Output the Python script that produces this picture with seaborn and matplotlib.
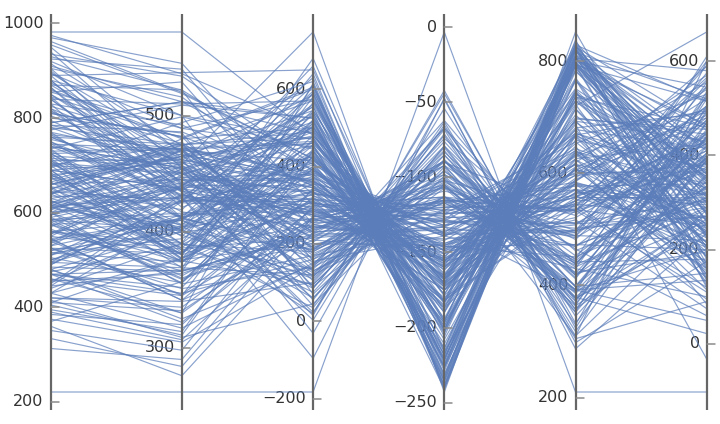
import numpy as np
import pandas as pd
import seaborn as sns
import matplotlib.pyplot as plt

# values per axis, one entry per line (last entry = the low outlier line)
dim_1 = [982, 720, 540, 865, 610, 455, 790, 680, 370, 905,
         630, 745, 510, 880, 575, 420, 695, 820, 660, 480,
         935, 600, 715, 390, 830, 560, 650, 470, 755, 525,
         690, 850, 313, 615, 770, 505, 925, 585, 440, 735,
         660, 975, 545, 405, 800, 625, 495, 710, 860, 580,
         455, 740, 640, 890, 520, 675, 351, 780, 600, 470,
         840, 565, 705, 430, 910, 610, 530, 765, 690, 395,
         620, 870, 490, 725, 585, 962, 450, 655, 810, 545,
         700, 334, 615, 845, 510, 760, 640, 420, 895, 575,
         730, 485, 665, 820, 560, 950, 605, 445, 780, 690,
         375, 625, 855, 540, 710, 470, 790, 650, 515, 880,
         595, 750, 430, 680, 920, 560, 640, 805, 500, 715,
         660, 840, 410, 585, 745, 525, 970, 620, 690, 460,
         785, 550, 870, 640, 360, 725, 600, 815, 495, 675,
         555, 900, 700, 480, 760, 615, 535, 850, 645, 590,
         615, 770, 480, 690, 905, 560, 735, 410, 845, 650,
         525, 880, 700, 590, 760, 445, 815, 635, 540, 720,
         955, 600, 680, 495, 855, 575, 740, 385, 665, 810,
         545, 725, 630, 890, 470, 785, 595, 705, 520, 830,
         640, 915, 555, 750, 430, 675, 865, 585, 710, 500,
         795, 620, 460, 740, 660, 940, 530, 685, 600, 875,
         570, 705, 825, 490, 645, 765, 415, 610, 895, 550,
         730, 475, 670, 840, 580, 655, 930, 515, 775, 625,
         221]
dim_2 = [572, 458, 410, 426, 437, 364, 512, 405, 357, 441,
         447, 431, 432, 440, 414, 335, 494, 460, 445, 325,
         534, 375, 454, 307, 492, 390, 477, 352, 454, 346,
         462, 457, 290, 374, 462, 356, 540, 401, 390, 389,
         465, 536, 411, 311, 485, 406, 439, 412, 480, 360,
         404, 430, 465, 442, 400, 399, 298, 450, 430, 322,
         510, 366, 451, 317, 512, 402, 447, 426, 437, 314,
         445, 462, 427, 401, 416, 520, 432, 419, 482, 341,
         475, 284, 429, 421, 412, 440, 475, 340, 489, 359,
         472, 366, 471, 425, 410, 467, 471, 366, 475, 377,
         305, 381, 489, 345, 462, 367, 512, 397, 394, 435,
         439, 432, 412, 390, 500, 370, 480, 456, 405, 384,
         465, 435, 377, 356, 471, 381, 545, 390, 437, 330,
         486, 382, 522, 380, 276, 411, 470, 459, 404, 374,
         439, 450, 450, 330, 475, 404, 449, 447, 426, 362,
         459, 412, 400, 377, 516, 385, 499, 332, 481, 467,
         351, 500, 380, 437, 435, 426, 434, 429, 440, 400,
         519, 355, 460, 369, 529, 374, 455, 320, 386, 482,
         341, 471, 402, 537, 347, 466, 454, 396, 410, 412,
         450, 474, 454, 417, 377, 474, 436, 426, 382, 415,
         444, 470, 345, 455, 470, 455, 412, 376, 440, 464,
         457, 406, 476, 427, 381, 471, 309, 442, 469, 452,
         412, 389, 472, 430, 425, 369, 522, 374, 509, 386,
         262]
dim_3 = [480, 748, 120, 310, 560, 245, 390, 60, 425, 275,
         335, 510, 180, 15, 455, 290, 620, 215, 370, 145,
         405, 95, 530, 260, 350, 680, 230, 445, -31, 320,
         585, 170, 300, 470, 40, 395, 250, 640, 135, 355,
         280, 495, 200, 430, 85, 545, 315, 165, 600, 240,
         375, -96, 460, 285, 110, 520, 345, 190, 410, 265,
         570, 225, 330, 150, 485, 20, 380, 660, 295, 440,
         205, 365, 540, 75, 305, 420, 255, 595, 130, 340,
         490, 270, 3, 415, 185, 555, 325, 100, 450, 235,
         385, 610, 160, 290, 505, 55, 360, 220, 475, 310,
         140, 435, 575, 265, 345, 195, 525, 115, 400, 280,
         630, 240, 360, 465, 70, 315, 500, 175, 390, 250,
         545, 125, 330, 440, 210, 590, 300, 35, 420, 270,
         350, 480, 155, 565, 230, 405, 90, 515, 285, 370,
         23, 455, 260, 615, 185, 335, 495, 145, 380, 305,
         275, 410, 185, 520, 330, 95, 445, 250, 605, 360,
         140, 470, 300, 220, 555, 385, 60, 325, 490, 265,
         420, 170, 345, 580, 235, 400, 115, 295, 505, 355,
         210, 460, 320, 650, 160, 375, 270, 535, 85, 430,
         305, 190, 480, 245, 395, 570, 130, 340, 455, 285,
         365, 225, 515, 105, 415, 290, 590, 200, 350, 475,
         255, 440, 150, 315, 540, 380, 45, 425, 230, 500,
         335, 180, 465, 275, 610, 120, 390, 310, 525, 215,
         -183]
dim_4 = [-166, -243, -67, -182, -202, -144, -137, -93, -167, -155,
         -139, -202, -104, -42, -220, -124, -239, -92, -175, -62,
         -183, -88, -221, -124, -160, -224, -89, -211, -48, -180,
         -222, -105, -129, -208, -63, -173, -115, -241, -85, -124,
         -151, -204, -133, -168, -72, -196, -159, -103, -233, -115,
         -186, -47, -170, -146, -83, -227, -146, -102, -159, -150,
         -214, -135, -122, -113, -178, -44, -172, -232, -165, -182,
         -90, -173, -218, -80, -130, -175, -127, -206, -122, -139,
         -216, -125, -54, -156, -117, -226, -160, -76, -190, -113,
         -153, -238, -96, -154, -199, -71, -147, -133, -194, -148,
         -67, -197, -201, -120, -171, -115, -231, -74, -167, -117,
         -236, -109, -183, -170, -95, -129, -182, -113, -167, -146,
         -189, -105, -122, -218, -106, -240, -113, -79, -158, -116,
         -185, -184, -139, -201, -128, -138, -107, -196, -156, -132,
         -65, -190, -102, -239, -89, -187, -178, -106, -128, -175,
         -107, -197, -98, -241, -133, -89, -155, -142, -229, -132,
         -116, -183, -175, -100, -227, -137, -85, -145, -171, -154,
         -168, -136, -138, -234, -92, -187, -82, -113, -226, -149,
         -148, -172, -156, -216, -115, -160, -105, -235, -68, -214,
         -126, -117, -165, -141, -166, -195, -113, -144, -222, -120,
         -170, -89, -222, -79, -149, -161, -219, -145, -139, -203,
         -98, -199, -92, -119, -236, -156, -99, -162, -129, -171,
         -168, -101, -164, -157, -225, -121, -151, -153, -179, -132,
         -3]
dim_5 = [791, 852, 373, 545, 812, 546, 667, 309, 633, 551,
         625, 793, 433, 324, 714, 541, 828, 465, 626, 418,
         624, 414, 826, 534, 591, 767, 453, 738, 298, 533,
         820, 439, 640, 720, 310, 609, 494, 803, 379, 644,
         606, 818, 389, 745, 330, 834, 572, 469, 795, 534,
         659, 287, 800, 451, 422, 737, 630, 419, 751, 517,
         804, 498, 560, 488, 723, 333, 566, 795, 582, 802,
         533, 607, 808, 357, 510, 687, 536, 808, 393, 571,
         667, 599, 345, 641, 440, 782, 648, 397, 728, 489,
         693, 823, 446, 570, 764, 364, 616, 470, 767, 559,
         437, 736, 786, 571, 588, 530, 746, 462, 556, 584,
         793, 510, 691, 730, 392, 488, 826, 364, 741, 473,
         796, 389, 656, 792, 399, 822, 444, 358, 681, 577,
         670, 818, 430, 811, 472, 632, 377, 829, 499, 616,
         318, 799, 525, 797, 399, 582, 793, 392, 671, 551,
         498, 697, 442, 816, 601, 377, 565, 616, 805, 557,
         448, 770, 668, 379, 800, 494, 398, 546, 729, 597,
         609, 596, 497, 838, 367, 783, 353, 423, 810, 535,
         611, 637, 678, 806, 430, 677, 386, 826, 305, 805,
         502, 436, 694, 508, 672, 715, 533, 563, 791, 542,
         606, 412, 806, 418, 580, 585, 819, 521, 581, 742,
         482, 749, 352, 538, 829, 638, 391, 699, 512, 619,
         704, 372, 665, 587, 831, 485, 551, 653, 636, 557,
         210]
dim_6 = [350, 180, 520, 270, 410, 95, 330, 600, 240, 445,
         150, 380, 290, 470, 215, 560, 310, 60, 425, 335,
         255, 490, 120, 365, 590, 200, 400, 300, 175, 505,
         340, 435, 230, 662, 285, 140, 375, 455, 22, 315,
         480, 260, 395, 165, 530, 345, 210, 420, 280, 110,
         375, 235, 545, 305, 440, 185, 500, 260, 355, 75,
         415, 320, 205, 575, 130, 390, 295, 465, 245, 350,
         505, 155, 325, 440, 270, -32, 385, 225, 470, 300,
         195, 540, 360, 250, 405, 315, 85, 455, 340, 220,
         430, 275, 610, 190, 365, 495, 240, 330, 125, 400,
         285, 460, 345, 175, 520, 390, 230, 310, 565, 265,
         145, 410, 295, 380, 50, 475, 330, 255, 425, 200,
         360, 535, 215, 305, 450, 160, 395, 275, 490, 340,
         235, 420, 100, 385, 310, 555, 265, 170, 445, 320,
         400, 250, 480, 205, 355, 290, 515, 135, 370, 425,
         290, 455, 180, 520, 365, 240, 430, 115, 580, 310,
         395, 205, 495, 335, 260, 545, 150, 410, 280, 470,
         225, 380, 600, 135, 440, 320, 505, 195, 360, 250,
         485, 170, 415, 300, 555, 215, 345, 460, 90, 390,
         270, 525, 185, 435, 330, 245, 590, 370, 140, 450,
         315, 500, 230, 405, 160, 545, 285, 425, 210, 355,
         475, 265, 390, 120, 515, 340, 200, 445, 305, 570,
         235, 420, 160, 495, 275, 385, 320, 530, 255, 440,
         -102]

ticks_1 = [200, 400, 600, 800, 1000]
ticks_2 = [300, 400, 500]
ticks_3 = [-200, 0, 200, 400, 600]
ticks_4 = [0, -50, -100, -150, -200, -250]
ticks_5 = [200, 400, 600, 800]
ticks_6 = [0, 200, 400, 600]

dims = [dim_1, dim_2, dim_3, dim_4, dim_5, dim_6]
ticks = [ticks_1, ticks_2, ticks_3, ticks_4, ticks_5, ticks_6]

# each axis gets its own scale: data range + 5% padding
frames = []
lims = []
for i, vals in enumerate(dims):
    v = np.array(vals, dtype=float)
    pad = 0.05 * (v.max() - v.min())
    lo, hi = v.min() - pad, v.max() + pad
    lims.append((lo, hi))
    frames.append(pd.DataFrame({'axis': i, 'value': (v - lo) / (hi - lo),
                                'row': np.arange(len(v))}))
df = pd.concat(frames, ignore_index=True)

sns.set_style('white')
fig = plt.figure(figsize=(7.2, 4.24), dpi=100)
ax = fig.add_axes([0, 0, 1, 1])

sns.lineplot(data=df, x='axis', y='value', units='row', estimator=None,
             color='#5b7dba', lw=0.85, alpha=0.72, ax=ax, zorder=2, legend=False)

step = 131.2  # pixels between axes
for i, (lo, hi) in enumerate(lims):
    ax.plot([i, i], [0, 1], color='#666666', lw=1.6, zorder=3, solid_capstyle='butt')
    for t in ticks[i]:
        n = (t - lo) / (hi - lo)
        ax.plot([i, i + 8 / step], [n, n], color='#8a8a8a', lw=1.1, zorder=3)
        lab = str(t).replace('-', '\u2212')
        ax.text(i - 7 / step, n, lab, ha='right', va='center', fontsize=11.5,
                color='#333333', zorder=1)

ax.set_xlim(-50.7 / step, (720 - 50.7) / step)
ax.set_ylim(-14 / 396, 410 / 396)
ax.axis('off')

fig.savefig('out.png', dpi=100)
